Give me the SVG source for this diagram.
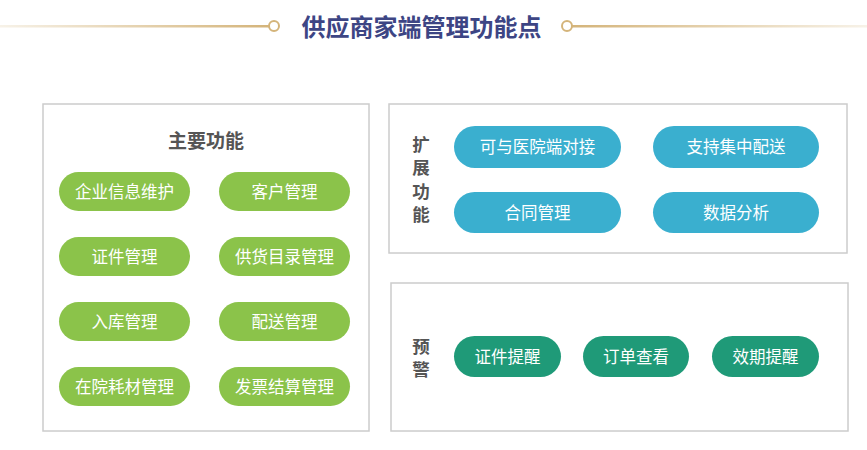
<svg xmlns="http://www.w3.org/2000/svg" width="867" height="450" viewBox="0 0 867 450">
<defs>
<linearGradient id="gl" x1="0" y1="0" x2="1" y2="0"><stop offset="0" stop-color="#f7f2e8"/><stop offset="1" stop-color="#d4b47a"/></linearGradient>
<linearGradient id="gr" x1="0" y1="0" x2="1" y2="0"><stop offset="0" stop-color="#d4b47a"/><stop offset="1" stop-color="#f7f2e8"/></linearGradient>
</defs>
<style>
text{font-family:"Noto Sans CJK SC","Noto Sans",sans-serif;text-anchor:middle;dominant-baseline:central}
.box{fill:#fff;stroke:#cccccc;stroke-width:1.5}
.g{fill:#8bc34a}
.b{fill:#3aafcf}
.t{fill:#1f9a78}
.pt{fill:#fff;font-size:16.5px}
.hd{fill:#555;font-size:17.5px;font-weight:bold}
</style>
<rect width="867" height="450" fill="#fff"/>
<g id="title">
<rect x="0" y="25" width="269" height="2.5" fill="url(#gl)"/>
<rect x="572" y="25" width="295" height="2.5" fill="url(#gr)"/>
<circle cx="274" cy="26" r="5" fill="#fff" stroke="#d4b47a" stroke-width="2"/>
<circle cx="567" cy="26" r="5" fill="#fff" stroke="#d4b47a" stroke-width="2"/>
<text x="421.5" y="25" font-size="24" font-weight="bold" fill="#3d4584">供应商家端管理功能点</text>
</g>
<g id="main">
<rect class="box" x="43" y="104" width="326" height="327"/>
<text class="hd" x="206" y="139" style="font-size:19px">主要功能</text>
</g>
<g id="m1"><rect class="g" x="59" y="172" width="131" height="39" rx="19.5"/><text class="pt" x="124.5" y="190.5">企业信息维护</text></g>
<g id="m2"><rect class="g" x="219" y="172" width="131" height="39" rx="19.5"/><text class="pt" x="284.5" y="190.5">客户管理</text></g>
<g id="m3"><rect class="g" x="59" y="237" width="131" height="39" rx="19.5"/><text class="pt" x="124.5" y="255.5">证件管理</text></g>
<g id="m4"><rect class="g" x="219" y="237" width="131" height="39" rx="19.5"/><text class="pt" x="284.5" y="255.5">供货目录管理</text></g>
<g id="m5"><rect class="g" x="59" y="302" width="131" height="39" rx="19.5"/><text class="pt" x="124.5" y="320.5">入库管理</text></g>
<g id="m6"><rect class="g" x="219" y="302" width="131" height="39" rx="19.5"/><text class="pt" x="284.5" y="320.5">配送管理</text></g>
<g id="m7"><rect class="g" x="59" y="367" width="131" height="39" rx="19.5"/><text class="pt" x="124.5" y="385.5">在院耗材管理</text></g>
<g id="m8"><rect class="g" x="219" y="367" width="131" height="39" rx="19.5"/><text class="pt" x="284.5" y="385.5">发票结算管理</text></g>
<g id="ext">
<rect class="box" x="389" y="104" width="458" height="149"/>
<text class="hd" x="421" y="143">扩</text>
<text class="hd" x="421" y="166.5">展</text>
<text class="hd" x="421" y="190">功</text>
<text class="hd" x="421" y="213.5">能</text>
</g>
<g id="e1"><rect class="b" x="454" y="126" width="167" height="42" rx="21"/><text class="pt" x="537.5" y="146">可与医院端对接</text></g>
<g id="e2"><rect class="b" x="653" y="126" width="166" height="42" rx="21"/><text class="pt" x="736" y="146">支持集中配送</text></g>
<g id="e3"><rect class="b" x="454" y="192" width="167" height="41" rx="20.5"/><text class="pt" x="537.5" y="211.5">合同管理</text></g>
<g id="e4"><rect class="b" x="653" y="192" width="166" height="41" rx="20.5"/><text class="pt" x="736" y="211.5">数据分析</text></g>
<g id="warn">
<rect class="box" x="391" y="283" width="457" height="148"/>
<text class="hd" x="421" y="345">预</text>
<text class="hd" x="421" y="368.5">警</text>
</g>
<g id="w1"><rect class="t" x="454" y="336" width="107" height="41" rx="20.5"/><text class="pt" x="507.5" y="355.5">证件提醒</text></g>
<g id="w2"><rect class="t" x="583" y="336" width="106" height="41" rx="20.5"/><text class="pt" x="636" y="355.5">订单查看</text></g>
<g id="w3"><rect class="t" x="712" y="336" width="107" height="41" rx="20.5"/><text class="pt" x="765.5" y="355.5">效期提醒</text></g>
<g id="connectors"></g>
</svg>
